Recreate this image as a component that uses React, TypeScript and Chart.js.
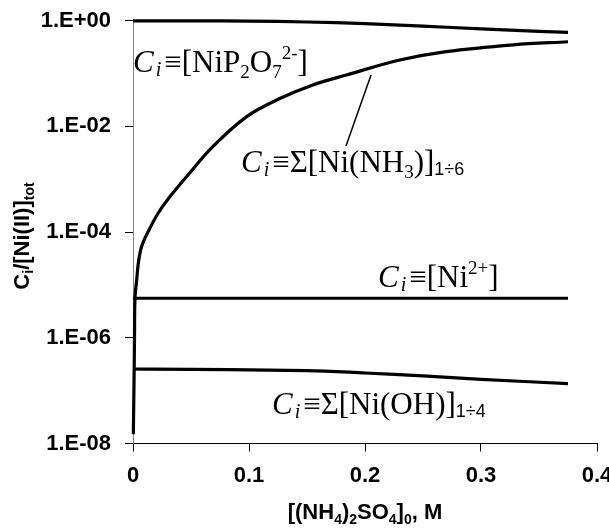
import React, { useEffect, useRef } from "react";
import { Chart, registerables } from "chart.js";

Chart.register(...registerables);

// ---- data ----
const pyroX = [0, 0.05, 0.1, 0.15, 0.2, 0.25, 0.3, 0.35, 0.375];
const pyroY = [0.995, 0.993, 0.985, 0.945, 0.88, 0.79, 0.7, 0.63, 0.6];

const ammX = [0.0003, 0.0009, 0.0013, 0.0017, 0.0032, 0.0047, 0.0075, 0.0138, 0.0218, 0.0319, 0.0463, 0.069, 0.098, 0.127, 0.155, 0.184, 0.23, 0.27, 0.328, 0.375];
const ammY = [1.5e-8, 1.6e-7, 1.0e-6, 5.6e-6, 1.26e-5, 2.7e-5, 5.4e-5, 1.1e-4, 2.3e-4, 4.7e-4, 1.13e-3, 4.17e-3, 1.53e-2, 3.4e-2, 6.1e-2, 9.4e-2, 0.18, 0.26, 0.35, 0.4];

const niX = [0, 0.015, 0.15, 0.375];
const niY = [5.6e-6, 5.6e-6, 5.6e-6, 5.6e-6];

const ohX = [0, 0.015, 0.15, 0.2, 0.25, 0.3, 0.375];
const ohY = [2.57e-7, 2.55e-7, 2.4e-7, 2.16e-7, 1.9e-7, 1.64e-7, 1.36e-7];

const xTickValues = [0, 0.1, 0.2, 0.3, 0.4];
const xTickLabels = ["0", "0.1", "0.2", "0.3", "0.4"];
const yTickValues = [1e-8, 1e-6, 1e-4, 1e-2, 1];
const yTickLabels = ["1.E-08", "1.E-06", "1.E-04", "1.E-02", "1.E+00"];

const SERIF = '"Liberation Serif", "Times New Roman", serif';
const SANS = '"Liberation Sans", Arial, sans-serif';

type Seg = { t: string; font: string; dy?: number; dx?: number };

function segWidth(ctx: CanvasRenderingContext2D, segs: Seg[]) {
  let w = 0;
  for (const s of segs) {
    ctx.font = s.font;
    w += (s.dx || 0) + ctx.measureText(s.t).width;
  }
  return w;
}

function drawSegs(ctx: CanvasRenderingContext2D, x: number, y: number, segs: Seg[]) {
  let cx = x;
  for (const s of segs) {
    ctx.font = s.font;
    cx += s.dx || 0;
    ctx.fillText(s.t, cx, y + (s.dy || 0));
    cx += ctx.measureText(s.t).width;
  }
}

const main = `31px ${SERIF}`;
const it = `italic 31px ${SERIF}`;
const itSub = `italic 20px ${SERIF}`;
const small = `19px ${SERIF}`;
const sansSub = `18px ${SANS}`;

const ciPrefix: Seg[] = [
  { t: "C", font: it },
  { t: "i", font: itSub, dy: 4, dx: 2 },
  { t: "\u2261", font: main, dx: 3 },
];

const labels: { x: number; y: number; segs: Seg[] }[] = [
  {
    x: 0,
    y: 0.107,
    segs: [
      ...ciPrefix,
      { t: "[NiP", font: main },
      { t: "2", font: small, dy: 6 },
      { t: "O", font: main },
      { t: "7", font: small, dy: 6 },
      { t: "2-", font: small, dy: -13 },
      { t: "]", font: main },
    ],
  },
  {
    x: 0.0931,
    y: 1.37e-3,
    segs: [
      ...ciPrefix,
      { t: "\u03A3[Ni(NH", font: main },
      { t: "3", font: small, dy: 6 },
      { t: ")]", font: main },
      { t: "1\u00F76", font: sansSub, dy: 3 },
    ],
  },
  {
    x: 0.2112,
    y: 9.1e-6,
    segs: [
      ...ciPrefix,
      { t: "[Ni", font: main },
      { t: "2+", font: small, dy: -13 },
      { t: "]", font: main },
    ],
  },
  {
    x: 0.1198,
    y: 3.6e-8,
    segs: [
      ...ciPrefix,
      { t: "\u03A3[Ni(OH)]", font: main },
      { t: "1\u00F74", font: sansSub, dy: 3 },
    ],
  },
];

const leader = { x1: 0.2052, y1: 0.094, x2: 0.1836, y2: 4.26e-3 };

const annotPlugin = {
  id: "annot",
  afterDraw(chart: any) {
    const ctx: CanvasRenderingContext2D = chart.ctx;
    const xs = chart.scales.x;
    const ys = chart.scales.y;
    ctx.save();
    ctx.fillStyle = "#000";
    ctx.strokeStyle = "#000";
    ctx.textBaseline = "alphabetic";
    ctx.textAlign = "left";
    for (const l of labels) {
      drawSegs(ctx, xs.getPixelForValue(l.x), ys.getPixelForValue(l.y), l.segs);
    }
    ctx.lineWidth = 1.5;
    ctx.beginPath();
    ctx.moveTo(xs.getPixelForValue(leader.x1), ys.getPixelForValue(leader.y1));
    ctx.lineTo(xs.getPixelForValue(leader.x2), ys.getPixelForValue(leader.y2));
    ctx.stroke();

    // axis titles
    const bMain = `bold 22px ${SANS}`;
    const bSub = `bold 14px ${SANS}`;
    const yTitle: Seg[] = [
      { t: "C", font: bMain },
      { t: "i", font: bSub, dy: 4 },
      { t: "/[Ni(II)]", font: bMain },
      { t: "tot", font: bSub, dy: 5 },
    ];
    const wy = segWidth(ctx, yTitle);
    ctx.save();
    ctx.translate(29, 236);
    ctx.rotate(-Math.PI / 2);
    drawSegs(ctx, -wy / 2, 0, yTitle);
    ctx.restore();

    const xTitle: Seg[] = [
      { t: "[(NH", font: bMain },
      { t: "4", font: bSub, dy: 5 },
      { t: ")", font: bMain },
      { t: "2", font: bSub, dy: 5 },
      { t: "SO", font: bMain },
      { t: "4", font: bSub, dy: 5 },
      { t: "]", font: bMain },
      { t: "0", font: bSub, dy: 5 },
      { t: ", M", font: bMain },
    ];
    const wx = segWidth(ctx, xTitle);
    const cx = (chart.chartArea.left + chart.chartArea.right) / 2;
    drawSegs(ctx, cx - wx / 2, 519, xTitle);
    ctx.restore();
  },
};

function toPts(xs: number[], ys: number[]) {
  return xs.map((x, i) => ({ x, y: ys[i] }));
}

export default function App() {
  const ref = useRef<HTMLCanvasElement | null>(null);
  useEffect(() => {
    if (!ref.current) return;
    const tickFont = { family: SANS, size: 22, weight: "bold" as const };
    const ds = (data: any[]) => ({
      data,
      borderColor: "#000",
      borderWidth: 3.2,
      pointRadius: 0,
      fill: false,
      tension: 0.35,
      clip: false as any,
    });
    const chart = new Chart(ref.current, {
      type: "line",
      data: {
        datasets: [
          ds(toPts(pyroX, pyroY)),
          ds(toPts(ammX, ammY)),
          ds(toPts(niX, niY)),
          ds(toPts(ohX, ohY)),
        ],
      },
      options: {
        responsive: false,
        maintainAspectRatio: false,
        animation: false,
        devicePixelRatio: 1,
        layout: { padding: { top: 20.7, right: 12, bottom: 0, left: 0 } },
        plugins: { legend: { display: false }, tooltip: { enabled: false } },
        scales: {
          x: {
            type: "linear",
            min: 0,
            max: 0.4,
            afterBuildTicks: (s: any) => {
              s.ticks = xTickValues.map((v) => ({ value: v }));
            },
            afterFit: (s: any) => {
              s.height = 87.5;
              s.paddingLeft = 0;
              s.paddingRight = 0;
            },
            grid: { drawOnChartArea: false, drawTicks: true, tickLength: 8, color: "#000", lineWidth: 1 },
            border: { display: true, color: "#000", width: 1 },
            ticks: {
              callback: (_v: any, i: number) => xTickLabels[i],
              padding: 11,
              maxRotation: 0,
              autoSkip: false,
              color: "#000",
              font: tickFont,
            },
          },
          y: {
            type: "logarithmic",
            min: 1e-8,
            max: 1,
            afterBuildTicks: (s: any) => {
              s.ticks = yTickValues.map((v) => ({ value: v }));
            },
            afterFit: (s: any) => {
              s.width = 133;
              s.paddingTop = 0;
              s.paddingBottom = 0;
            },
            grid: { drawOnChartArea: false, drawTicks: true, tickLength: 8, color: "#000", lineWidth: 1 },
            border: { display: true, color: "#808080", width: 1 },
            ticks: {
              callback: (_v: any, i: number) => yTickLabels[i],
              padding: 14,
              autoSkip: false,
              color: "#000",
              font: tickFont,
            },
          },
        },
      },
      plugins: [annotPlugin],
    });
    return () => chart.destroy();
  }, []);
  return (
    <div style={{ position: "absolute", left: 0, top: 0, width: 609, height: 531, overflow: "hidden", background: "#fff" }}>
      <canvas ref={ref} width={609} height={531} style={{ display: "block" }} />
    </div>
  );
}
